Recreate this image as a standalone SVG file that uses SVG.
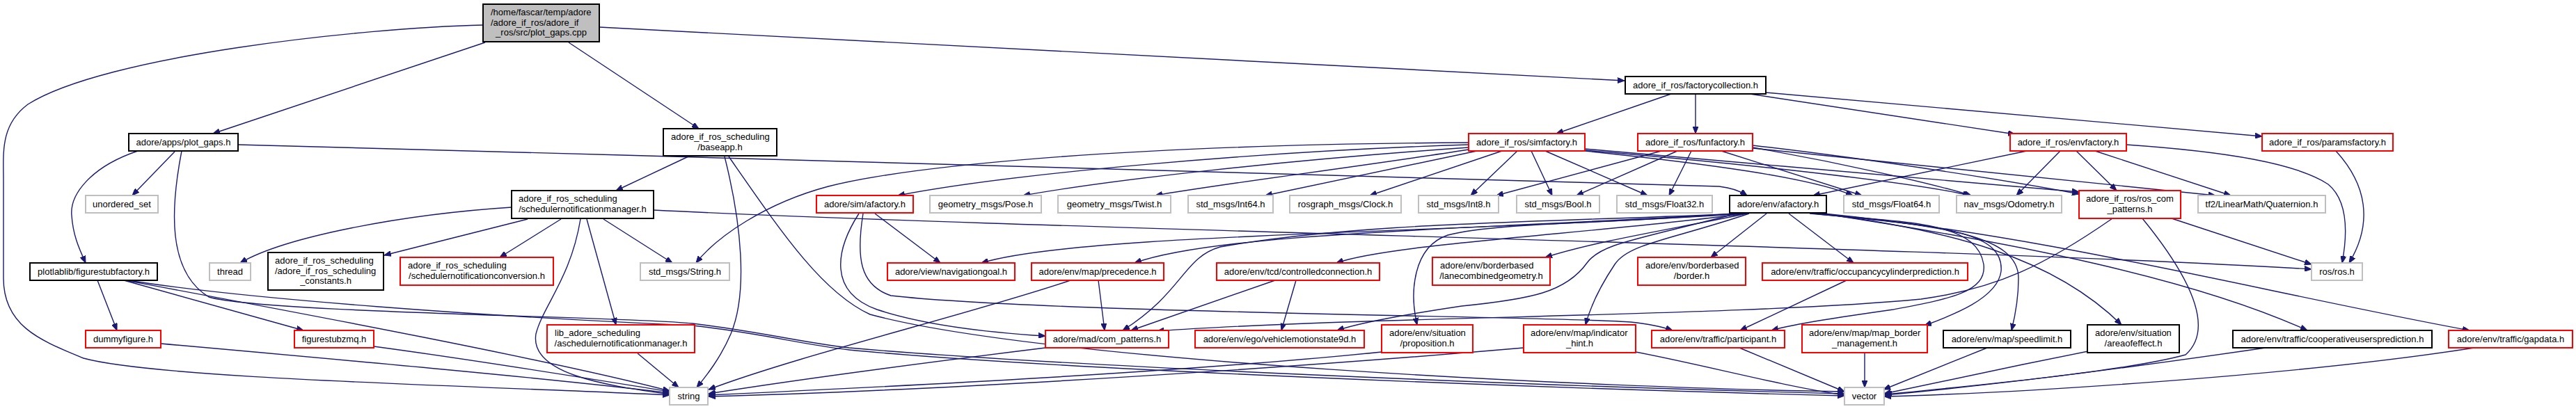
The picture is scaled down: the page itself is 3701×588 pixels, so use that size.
<svg xmlns="http://www.w3.org/2000/svg" width="3701" height="588" viewBox="0 0 3701 588">
<defs>
<marker id="a" viewBox="0 0 10 8" refX="10" refY="4" markerWidth="10" markerHeight="8" markerUnits="userSpaceOnUse" orient="auto"><path d="M0,0 L10,4 L0,8 z" fill="#191970" stroke="#191970" stroke-width="1"/></marker>
</defs>
<style>
.n rect{fill:#fff;stroke-width:2}
.b rect{stroke:#000}
.r rect{stroke:#ff0000}
.g rect{stroke:#bfbfbf}
.m rect{fill:#bfbfbf;stroke:#000}
text{font-family:"Liberation Sans",Arial,sans-serif;font-size:13px;fill:#000}
.c{text-anchor:middle}
#edges path{fill:none;stroke:#191970;stroke-width:1.4;marker-end:url(#a)}
</style>
<rect width="3701" height="588" fill="#fff"/>
<g id="edges">
<path d="M697,61 L306,192"/>
<path d="M817,61 L1004,185"/>
<path d="M861,39 L2334,116"/>
<path d="M694,36 C520,40 150,80 40,150 C0,180 5,220 5,260 L5,400 C5,470 60,490 120,515 C230,545 700,555 962,568"/>
<path d="M251,218 L190,281"/>
<path d="M198,217 C130,240 100,280 103,310 C105,340 115,360 123,378"/>
<path d="M342,208 C1200,232 2300,258 2470,268 Q2495,271 2510,281"/>
<path d="M261,217 C245,300 240,390 300,427 C380,450 900,455 995,465 C1100,478 1150,492 1220,500 C1500,525 2200,555 2650,566"/>
<path d="M140,403 L168,475"/>
<path d="M178,403 L436,475"/>
<path d="M180,403 C420,448 780,515 962,562"/>
<path d="M185,403 C350,430 700,455 995,468 C1100,480 1150,495 1220,503 C1500,530 2200,558 2650,569"/>
<path d="M231,494 C500,518 800,545 962,565"/>
<path d="M537,498 C700,520 850,545 962,563"/>
<path d="M989,225 L885,274"/>
<path d="M1041,225 C1065,320 1075,420 1050,480 C1035,515 1015,540 1001,557"/>
<path d="M1047,225 C1120,330 1180,420 1250,452 C1500,520 2300,558 2650,563"/>
<path d="M735,298 C580,308 410,340 345,378"/>
<path d="M758,315 L552,367"/>
<path d="M806,315 L718,370"/>
<path d="M867,315 L966,378"/>
<path d="M843,315 L885,467"/>
<path d="M834,315 C820,400 780,440 770,480 C760,540 880,555 962,567"/>
<path d="M939,302 C1500,330 2800,355 3321,387"/>
<path d="M916,508 L975,557"/>
<path d="M2401,135 L2236,192"/>
<path d="M2436,135 L2436,192"/>
<path d="M2514,135 L2895,193"/>
<path d="M2537,133 L3250,196"/>
<path d="M2110,205 C1600,208 1300,240 1190,268 C1100,292 1030,340 1000,378"/>
<path d="M2110,208 C1800,218 1450,250 1290,281"/>
<path d="M2110,212 C1850,230 1600,258 1470,281"/>
<path d="M2110,215 C1950,240 1750,265 1660,281"/>
<path d="M2122,217 L1818,281"/>
<path d="M2158,217 L1968,281"/>
<path d="M2180,217 L2113,281"/>
<path d="M2200,217 L2230,281"/>
<path d="M2220,217 L2367,281"/>
<path d="M2277,217 C2450,235 2600,255 2662,281"/>
<path d="M2277,216 C2500,235 2750,262 2830,281"/>
<path d="M2277,214 C2500,235 2850,262 2987,276"/>
<path d="M2387,217 L2150,281"/>
<path d="M2410,217 L2265,281"/>
<path d="M2430,217 L2398,281"/>
<path d="M2473,217 L2675,281"/>
<path d="M2518,212 C2650,235 2780,265 2832,281"/>
<path d="M2518,209 C2700,230 2900,262 2987,279"/>
<path d="M2518,213 L3183,281"/>
<path d="M2912,217 L2605,281"/>
<path d="M2960,217 L2897,281"/>
<path d="M2983,217 L3041,274"/>
<path d="M3010,217 L3205,281"/>
<path d="M3055,208 C3200,218 3300,235 3345,265 C3375,290 3372,340 3365,378"/>
<path d="M3356,217 C3400,265 3410,320 3375,378"/>
<path d="M3120,314 L3321,380"/>
<path d="M3035,314 C2940,380 2870,415 2760,430 C2500,455 1950,455 1662,476"/>
<path d="M3078,314 C3140,390 3185,470 3140,510 C3050,535 2800,558 2708,567"/>
<path d="M1257,307 L1351,378"/>
<path d="M1234,307 C1200,360 1190,420 1260,445 C1330,468 1420,478 1502,483"/>
<path d="M1240,307 C1230,370 1235,410 1280,425 C1500,450 2250,455 2343,463 Q2380,467 2403,475"/>
<path d="M2505,307 C2100,335 1550,335 1410,378"/>
<path d="M2505,307 C2100,330 1750,335 1630,378"/>
<path d="M2508,307 C2300,335 2000,350 1920,378"/>
<path d="M2510,307 C2400,330 2300,345 2220,370"/>
<path d="M2538,307 L2458,370"/>
<path d="M2570,307 L2663,378"/>
<path d="M2505,307 C2200,320 1950,320 1753,355 C1700,370 1700,420 1613,475"/>
<path d="M2495,307 C2350,345 2300,350 2280,378 C2250,420 2200,430 2100,440 C2000,455 1950,465 1921,475"/>
<path d="M2490,307 C2300,322 2150,320 2080,338 C2030,355 2025,420 2036,467"/>
<path d="M2513,307 C2400,345 2340,350 2320,380 C2300,410 2285,440 2278,467"/>
<path d="M2600,307 C2750,320 2840,320 2850,380 C2855,420 2800,430 2720,445 C2650,455 2580,465 2545,475"/>
<path d="M2605,307 C2780,325 2880,330 2875,390 C2870,430 2800,455 2765,468"/>
<path d="M2610,307 C2800,325 2900,340 2900,400 C2900,430 2895,455 2890,475"/>
<path d="M2615,307 C2800,330 2950,370 3048,467"/>
<path d="M2618,307 C2900,350 3150,400 3315,475"/>
<path d="M2620,307 C2950,340 3250,420 3548,475"/>
<path d="M2653,403 L2500,475"/>
<path d="M1832,403 L1625,475"/>
<path d="M1862,403 L1841,475"/>
<path d="M1578,403 L1587,475"/>
<path d="M1538,403 C1400,450 1150,510 1018,560"/>
<path d="M1502,500 C1300,525 1150,545 1018,566"/>
<path d="M1985,506 C1700,535 1300,555 1018,568"/>
<path d="M2189,500 C1900,525 1400,560 1018,570"/>
<path d="M2350,506 C2450,525 2560,555 2650,568"/>
<path d="M2499,500 L2650,563"/>
<path d="M2679,507 L2679,557"/>
<path d="M2855,500 L2706,560"/>
<path d="M3000,505 C2900,525 2780,550 2707,566"/>
<path d="M3255,500 C3050,530 2850,555 2707,568"/>
<path d="M3555,500 C3300,540 2900,565 2707,570"/>
</g>
<g id="main" class="n m"><rect x="694" y="6" width="167" height="54"/><text x="705" y="22">/home/fascar/temp/adore</text><text x="705" y="36.7">/adore_if_ros/adore_if</text><text class="c" x="777.5" y="51.4">_ros/src/plot_gaps.cpp</text></g>
<g id="plotgaps" class="n b"><rect x="185" y="192" width="157" height="25"/><text class="c" x="263.5" y="209">adore/apps/plot_gaps.h</text></g>
<g id="unordered" class="n g"><rect x="123" y="281" width="104" height="25"/><text class="c" x="175" y="298">unordered_set</text></g>
<g id="figfac" class="n b"><rect x="43" y="378" width="183" height="25"/><text class="c" x="134.5" y="395">plotlablib/figurestubfactory.h</text></g>
<g id="thread" class="n g"><rect x="301" y="378" width="59" height="25"/><text class="c" x="330.5" y="395">thread</text></g>
<g id="constants" class="n b"><rect x="385" y="363" width="166" height="54"/><text x="395" y="379">adore_if_ros_scheduling</text><text x="395" y="393.7">/adore_if_ros_scheduling</text><text class="c" x="468" y="408.4">_constants.h</text></g>
<g id="conversion" class="n r"><rect x="575" y="370" width="220" height="40"/><text x="586" y="386">adore_if_ros_scheduling</text><text class="c" x="685" y="401">/schedulernotificationconversion.h</text></g>
<g id="dummy" class="n r"><rect x="123" y="475" width="108" height="25"/><text class="c" x="177" y="492">dummyfigure.h</text></g>
<g id="figzmq" class="n r"><rect x="423" y="475" width="114" height="25"/><text class="c" x="480" y="492">figurestubzmq.h</text></g>
<g id="baseapp" class="n b"><rect x="953" y="185" width="163" height="39"/><text x="964" y="201">adore_if_ros_scheduling</text><text class="c" x="1034.5" y="216">/baseapp.h</text></g>
<g id="manager" class="n b"><rect x="735" y="274" width="204" height="40"/><text x="745" y="290">adore_if_ros_scheduling</text><text class="c" x="837" y="305">/schedulernotificationmanager.h</text></g>
<g id="stringmsg" class="n g"><rect x="920" y="378" width="128" height="25"/><text class="c" x="984" y="395">std_msgs/String.h</text></g>
<g id="asched" class="n r"><rect x="786" y="467" width="212" height="40"/><text x="797" y="483">lib_adore_scheduling</text><text class="c" x="892" y="498">/aschedulernotificationmanager.h</text></g>
<g id="string" class="n g"><rect x="962" y="557" width="55" height="25"/><text class="c" x="989.5" y="574">string</text></g>
<g id="factcoll" class="n b"><rect x="2335" y="110" width="202" height="25"/><text class="c" x="2436" y="127">adore_if_ros/factorycollection.h</text></g>
<g id="simfac" class="n r"><rect x="2110" y="192" width="167" height="25"/><text class="c" x="2193.5" y="209">adore_if_ros/simfactory.h</text></g>
<g id="funfac" class="n r"><rect x="2353" y="192" width="165" height="25"/><text class="c" x="2435.5" y="209">adore_if_ros/funfactory.h</text></g>
<g id="envfac" class="n r"><rect x="2888" y="192" width="167" height="25"/><text class="c" x="2971.5" y="209">adore_if_ros/envfactory.h</text></g>
<g id="paramsfac" class="n r"><rect x="3250" y="192" width="188" height="25"/><text class="c" x="3344" y="209">adore_if_ros/paramsfactory.h</text></g>
<g id="simaf" class="n r"><rect x="1173" y="281" width="139" height="25"/><text class="c" x="1242.5" y="298">adore/sim/afactory.h</text></g>
<g id="pose" class="n g"><rect x="1336" y="281" width="160" height="25"/><text class="c" x="1416" y="298">geometry_msgs/Pose.h</text></g>
<g id="twist" class="n g"><rect x="1520" y="281" width="162" height="25"/><text class="c" x="1601" y="298">geometry_msgs/Twist.h</text></g>
<g id="int64" class="n g"><rect x="1707" y="281" width="122" height="25"/><text class="c" x="1768" y="298">std_msgs/Int64.h</text></g>
<g id="clock" class="n g"><rect x="1853" y="281" width="160" height="25"/><text class="c" x="1933" y="298">rosgraph_msgs/Clock.h</text></g>
<g id="int8" class="n g"><rect x="2038" y="281" width="115" height="25"/><text class="c" x="2095.5" y="298">std_msgs/Int8.h</text></g>
<g id="bool" class="n g"><rect x="2179" y="281" width="119" height="25"/><text class="c" x="2238.5" y="298">std_msgs/Bool.h</text></g>
<g id="float32" class="n g"><rect x="2323" y="281" width="137" height="25"/><text class="c" x="2391.5" y="298">std_msgs/Float32.h</text></g>
<g id="envaf" class="n b"><rect x="2485" y="281" width="139" height="25"/><text class="c" x="2554.5" y="298">adore/env/afactory.h</text></g>
<g id="float64" class="n g"><rect x="2649" y="281" width="137" height="25"/><text class="c" x="2717.5" y="298">std_msgs/Float64.h</text></g>
<g id="odom" class="n g"><rect x="2811" y="281" width="151" height="25"/><text class="c" x="2886.5" y="298">nav_msgs/Odometry.h</text></g>
<g id="roscom" class="n r"><rect x="2987" y="274" width="146" height="40"/><text x="2997" y="290">adore_if_ros/ros_com</text><text class="c" x="3060" y="305">_patterns.h</text></g>
<g id="quat" class="n g"><rect x="3158" y="281" width="183" height="25"/><text class="c" x="3249.5" y="298">tf2/LinearMath/Quaternion.h</text></g>
<g id="navgoal" class="n r"><rect x="1275" y="378" width="183" height="25"/><text class="c" x="1366.5" y="395">adore/view/navigationgoal.h</text></g>
<g id="prec" class="n r"><rect x="1482" y="378" width="190" height="25"/><text class="c" x="1577" y="395">adore/env/map/precedence.h</text></g>
<g id="ctrlconn" class="n r"><rect x="1748" y="378" width="234" height="25"/><text class="c" x="1865" y="395">adore/env/tcd/controlledconnection.h</text></g>
<g id="lanecomb" class="n r"><rect x="2058" y="370" width="169" height="40"/><text x="2069" y="386">adore/env/borderbased</text><text class="c" x="2142.5" y="401">/lanecombinedgeometry.h</text></g>
<g id="border" class="n r"><rect x="2353" y="370" width="155" height="40"/><text x="2364" y="386">adore/env/borderbased</text><text class="c" x="2430.5" y="401">/border.h</text></g>
<g id="occ" class="n r"><rect x="2532" y="378" width="295" height="25"/><text class="c" x="2679.5" y="395">adore/env/traffic/occupancycylinderprediction.h</text></g>
<g id="rosros" class="n g"><rect x="3321" y="378" width="73" height="25"/><text class="c" x="3357.5" y="395">ros/ros.h</text></g>
<g id="compat" class="n r"><rect x="1502" y="475" width="177" height="25"/><text class="c" x="1590.5" y="492">adore/mad/com_patterns.h</text></g>
<g id="vms9d" class="n r"><rect x="1717" y="475" width="243" height="25"/><text class="c" x="1838.5" y="492">adore/env/ego/vehiclemotionstate9d.h</text></g>
<g id="prop" class="n r"><rect x="1985" y="467" width="131" height="40"/><text x="1996" y="483">adore/env/situation</text><text class="c" x="2050.5" y="498">/proposition.h</text></g>
<g id="indhint" class="n r"><rect x="2189" y="467" width="161" height="40"/><text x="2199" y="483">adore/env/map/indicator</text><text class="c" x="2269.5" y="498">_hint.h</text></g>
<g id="particip" class="n r"><rect x="2373" y="475" width="191" height="25"/><text class="c" x="2468.5" y="492">adore/env/traffic/participant.h</text></g>
<g id="mapbord" class="n r"><rect x="2589" y="467" width="180" height="40"/><text x="2599" y="483">adore/env/map/map_border</text><text class="c" x="2679" y="498">_management.h</text></g>
<g id="speed" class="n b"><rect x="2792" y="475" width="183" height="25"/><text class="c" x="2883.5" y="492">adore/env/map/speedlimit.h</text></g>
<g id="aoe" class="n b"><rect x="2999" y="467" width="132" height="40"/><text x="3010" y="483">adore/env/situation</text><text class="c" x="3065" y="498">/areaofeffect.h</text></g>
<g id="coop" class="n b"><rect x="3208" y="475" width="286" height="25"/><text class="c" x="3351" y="492">adore/env/traffic/cooperativeusersprediction.h</text></g>
<g id="gap" class="n r"><rect x="3518" y="475" width="178" height="25"/><text class="c" x="3607" y="492">adore/env/traffic/gapdata.h</text></g>
<g id="vector" class="n g"><rect x="2650" y="557" width="57" height="25"/><text class="c" x="2678.5" y="574">vector</text></g>
</svg>
